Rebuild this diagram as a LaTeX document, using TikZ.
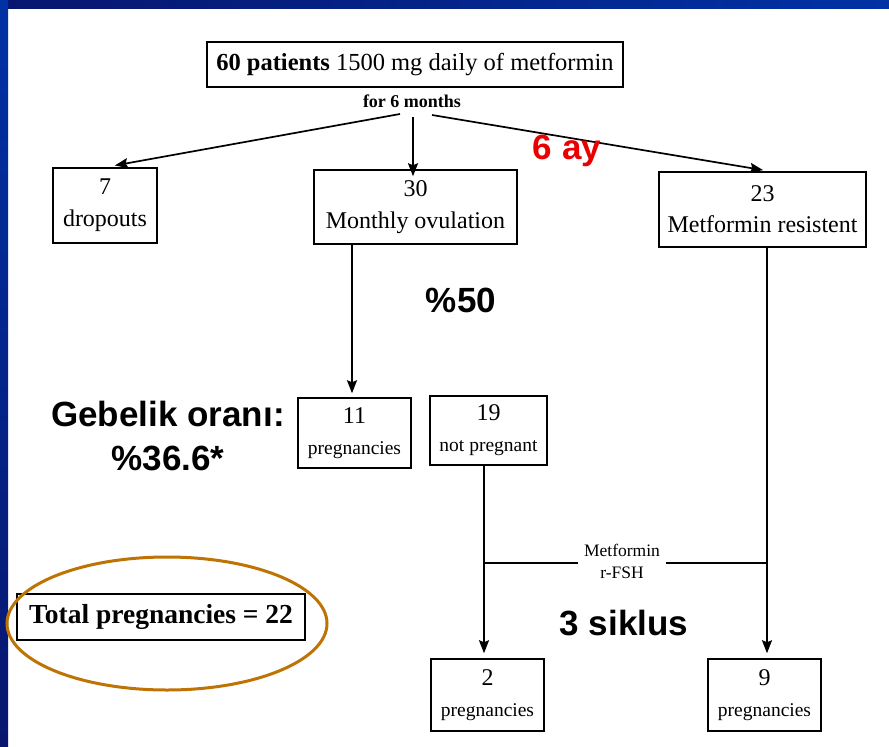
\documentclass[tikz,border=0pt]{standalone}
\usepackage{fontspec}
\setmainfont{Liberation Serif}
\newfontfamily\annfont{Liberation Sans}
\usetikzlibrary{arrows.meta,shapes.geometric}
\definecolor{navyA}{RGB}{8,22,110}
\definecolor{navyB}{RGB}{0,50,165}
\definecolor{ringc}{RGB}{190,115,5}
\definecolor{annred}{RGB}{235,0,0}
\tikzset{
  box/.style={draw=black,line width=1.5pt,align=center,inner sep=0pt,font=\fontsize{24}{31}\selectfont},
  arr/.style={line width=1.7pt,-{Stealth[length=13pt,width=10pt,inset=2pt]}},
  ln/.style={line width=1.7pt},
  ann/.style={font=\annfont\bfseries\fontsize{35}{44}\selectfont,align=center,inner sep=0pt},
}
\begin{document}
\begin{tikzpicture}[x=1pt,y=-1pt]
\useasboundingbox (0,0) rectangle (889,747);
\fill[white] (0,0) rectangle (889,747);
% frame bands
\shade[left color=navyA,right color=navyB] (0,0) rectangle (889,8);
\shade[top color=navyB,bottom color=navyA] (0,0) rectangle (8,747);

% boxes
\node[box,minimum width=416pt,minimum height=45pt,font=\fontsize{24.5}{28}\selectfont] (top) at (415,64.5)
  {\textbf{60 patients} 1500 mg daily of metformin};
\node[font=\bfseries\fontsize{18}{20}\selectfont,inner sep=1pt] (six) at (412,101) {for 6 months};
\node[box,minimum width=104pt,minimum height=75pt] (drop) at (105,205.5) {7\\[1pt]dropouts};
\node[box,minimum width=203pt,minimum height=74pt] (ovul) at (415.5,207) {30\\[1pt]Monthly ovulation};
\node[box,minimum width=207pt,minimum height=75pt] (resist) at (762.5,209.5) {23\\Metformin resistent};
\node[box,minimum width=113pt,minimum height=70pt] (p11) at (354.5,433) {11\\{\fontsize{19.5}{24}\selectfont pregnancies}};
\node[box,minimum width=117pt,minimum height=69pt] (np19) at (488.5,430.5) {19\\{\fontsize{19.5}{24}\selectfont not pregnant}};
\node[box,minimum width=113pt,minimum height=72pt] (p2) at (487.5,695) {2\\{\fontsize{19.5}{24}\selectfont pregnancies}};
\node[box,minimum width=113pt,minimum height=72pt] (p9) at (764.5,695) {9\\{\fontsize{19.5}{24}\selectfont pregnancies}};
\node[box,line width=1.2pt,minimum width=288pt,minimum height=46pt,font=\bfseries\fontsize{27.5}{30}\selectfont] (total) at (161,617) {Total pregnancies = 22};
\node[draw=ringc,line width=3pt,ellipse,minimum width=320pt,minimum height=133pt,inner sep=0pt] (ring) at (167,623.5) {};

% arrows from the top
\coordinate (sL) at (400,114);
\coordinate (sM) at (413,117);
\coordinate (sR) at (432,115);
\draw[arr,shorten >=10pt] (sL) -- (drop.north);
\draw[arr] (sM) -- ([xshift=-2.5pt,yshift=-7pt]ovul.north);
\draw[arr,shorten >=7pt] (sR) -- ([xshift=7.5pt]resist.north);

% vertical connectors
\draw[arr,shorten >=4pt] ([xshift=-2.5pt]p11.north |- ovul.south) -- ([xshift=-2.5pt]p11.north);
\draw[arr,shorten >=5pt] ([xshift=-3.5pt]p2.north |- np19.south) -- ([xshift=-3.5pt]p2.north);
\draw[arr,shorten >=5pt] ([xshift=2.5pt]p9.north |- resist.south) -- ([xshift=2.5pt]p9.north);

% horizontal link with label
\coordinate (hy) at (0,563);
\draw[ln] ([xshift=-3.5pt]p2.north |- hy) -- ([xshift=2.5pt]p9.north |- hy);
\node[fill=white,align=center,font=\fontsize{17.5}{22}\selectfont,inner xsep=6pt,inner ysep=1pt] (mf) at (622,561) {Metformin\\r-FSH};

% annotations
\node[ann,text=annred] (ay) at (567,151) {6 ay};
\node[ann] (p50) at (461,300) {\%50};
\node[ann] (geb) at (168,436) {Gebelik oranı:\\\%36.6*};
\node[ann] (sik) at (624,623) {3 siklus};
\end{tikzpicture}
\end{document}
